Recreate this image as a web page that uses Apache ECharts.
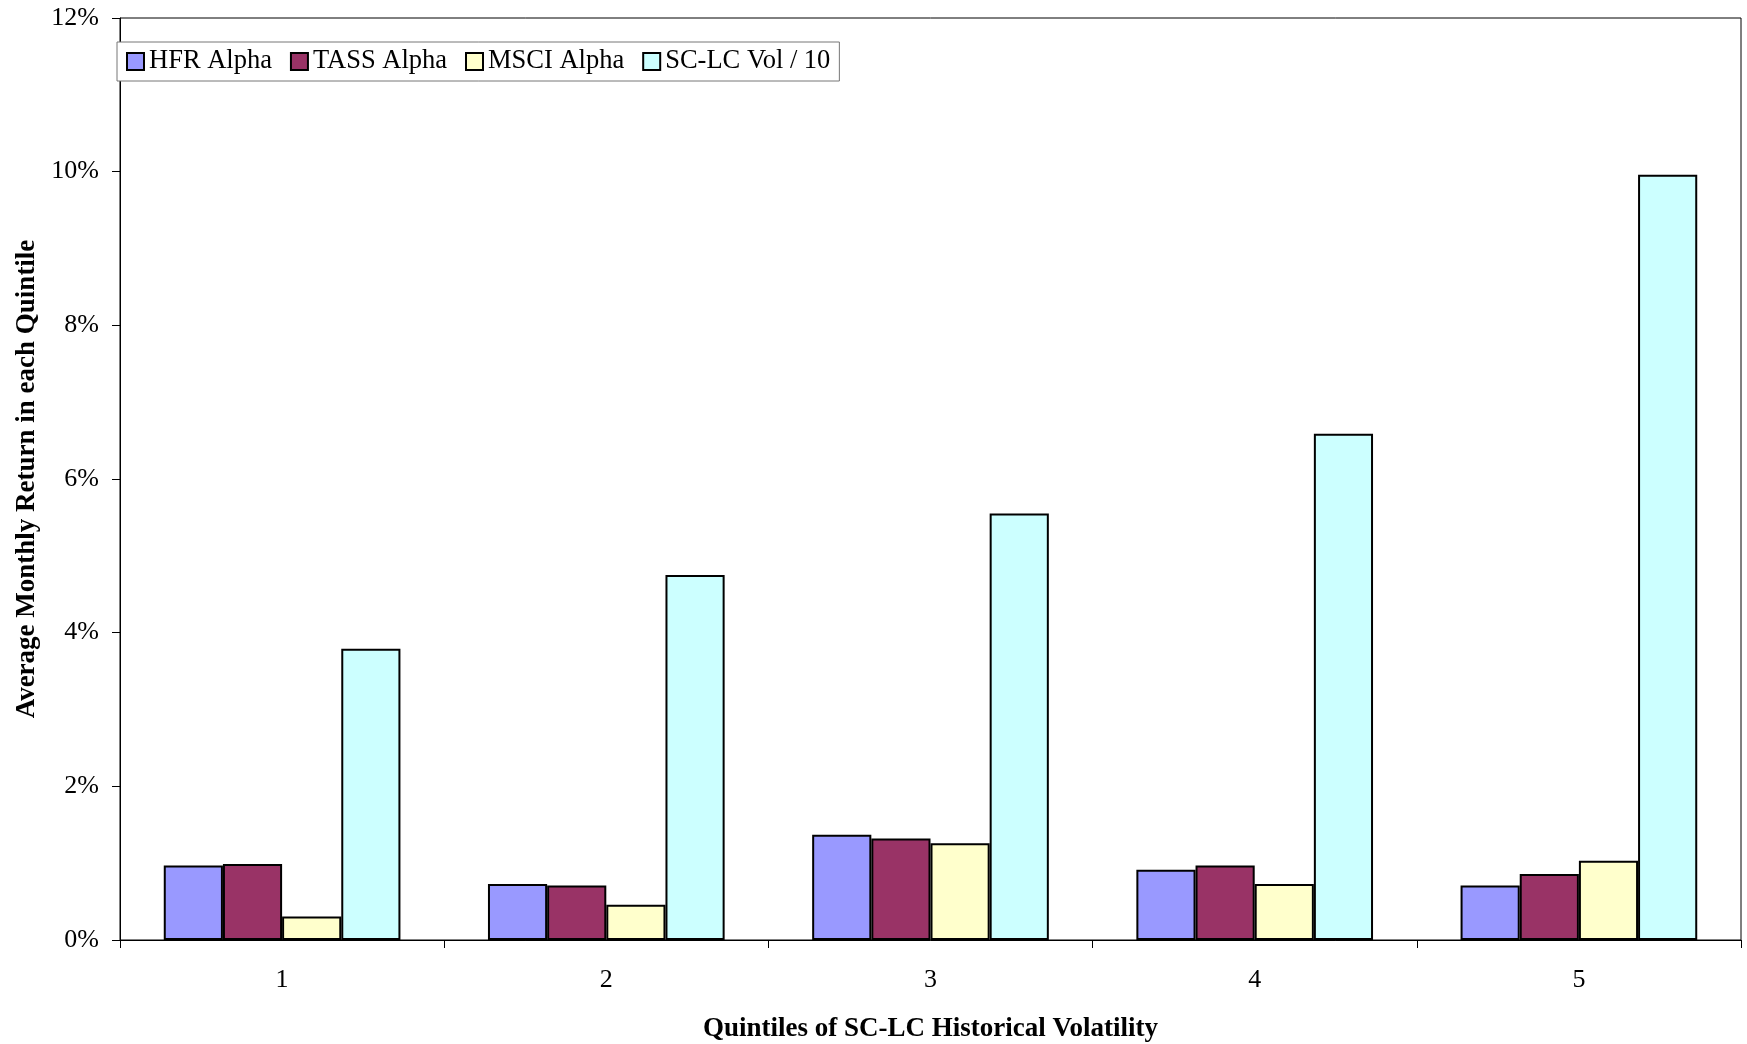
<!DOCTYPE html>
<html><head><meta charset="utf-8">
<script src="https://cdn.jsdelivr.net/npm/echarts@6/dist/echarts.min.js"></script>
<style>html,body{margin:0;padding:0;background:#fff}#c{width:1747px;height:1044px}</style>
</head><body><div id="c"></div>
<script>
const categories = ['1','2','3','4','5'];
const hfrAlpha  = [0.97, 0.73, 1.37, 0.915, 0.71];
const tassAlpha = [0.99, 0.71, 1.32, 0.97, 0.86];
const msciAlpha = [0.305, 0.46, 1.26, 0.73, 1.03];
const volDiv10  = [3.79, 4.75, 5.55, 6.59, 9.96];
const yTicks = [0, 2, 4, 6, 8, 10, 12];

const font = 'Liberation Serif';
const chart = echarts.init(document.getElementById('c'));
function bar(name, data, color){
  return {name, type:'bar', data, barGap:'0%', barCategoryGap:'27%',
    itemStyle:{color, borderColor:'#000', borderWidth:2}};
}
chart.setOption({
  animation:false,
  textStyle:{fontFamily:font},
  grid:{left:120, right:6, top:18, bottom:104, containLabel:false, outerBoundsMode:'none',
    show:true, borderColor:'#000', borderWidth:1},
  legend:{left:117, top:42, padding:[6,9,6,9], itemGap:18, itemWidth:17, itemHeight:17,
    icon:'rect',
    backgroundColor:'#fff', borderColor:'#777', borderWidth:1,
    textStyle:{fontFamily:font, fontSize:26.5, color:'#000'},
    itemStyle:{borderColor:'#000', borderWidth:2}},
  xAxis:{type:'category', data:categories,
    name:'Quintiles of SC-LC Historical Volatility', nameLocation:'middle', nameGap:76,
    nameTextStyle:{fontFamily:font, fontSize:27, fontWeight:'bold', color:'#000'},
    axisLine:{lineStyle:{color:'#000', width:1}},
    axisTick:{show:true, length:8, lineStyle:{color:'#000'}},
    axisLabel:{fontFamily:font, fontSize:26, color:'#000', margin:27}},
  yAxis:{type:'value', min:yTicks[0], max:yTicks[yTicks.length-1], interval:2,
    name:'Average Monthly Return in each Quintile', nameLocation:'middle', nameGap:79,
    nameTextStyle:{fontFamily:font, fontSize:27, fontWeight:'bold', color:'#000'},
    axisLine:{show:true, lineStyle:{color:'#000', width:1}},
    axisTick:{show:true, length:8, lineStyle:{color:'#000'}},
    splitLine:{show:false},
    axisLabel:{fontFamily:font, fontSize:26, color:'#000', margin:21, formatter:v=>v+'%'}},
  series:[
    bar('HFR Alpha', hfrAlpha, '#9999ff'),
    bar('TASS Alpha', tassAlpha, '#993366'),
    bar('MSCI Alpha', msciAlpha, '#ffffcc'),
    bar('SC-LC Vol / 10', volDiv10, '#ccffff')
  ]
});
</script></body></html>
